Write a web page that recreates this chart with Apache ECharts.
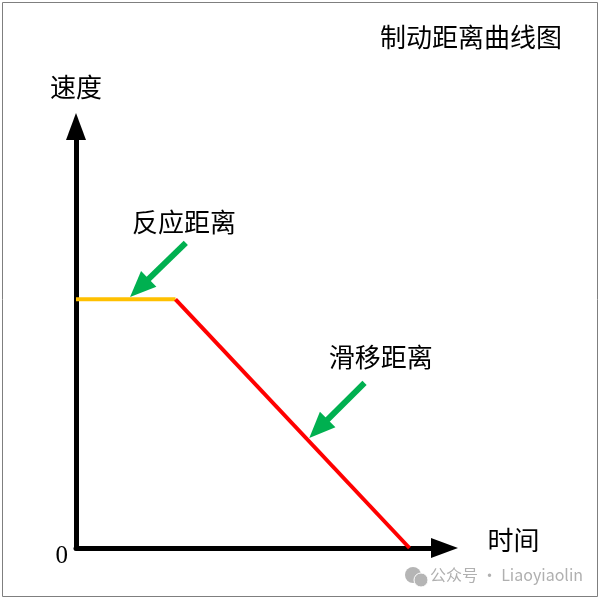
<!DOCTYPE html>
<html>
<head>
<meta charset="utf-8">
<script src="https://cdn.jsdelivr.net/npm/echarts@6/dist/echarts.min.js"></script>
<style>
html, body { margin: 0; padding: 0; background: #fff; }
#chart { width: 600px; height: 599px; }
</style>
</head>
<body>
<div id="chart"></div>
<script>
// 速度-时间 (braking distance curve)
var reactionData = [[0, 59], [27, 59]];
var brakingData = [[27, 59], [90.5, 0]];
// green pointers: [start, arrow-head centre]
var reactionArrow = [[29.8, 72.4], [17.2, 61.7]];
var brakingArrow = [[78.3, 39.2], [65.8, 28.3]];
var labelNames = ['反应距离', '滑移距离'];
var labelCoords = [[29.3, 77.4], [82.7, 45.4]];

var cjk = '"Noto Sans CJK SC", sans-serif';
var green = '#00b050';

function pointer(arr) {
    return {
        silent: true,
        symbol: ['none', 'triangle'],
        symbolSize: [22, 26],
        lineStyle: { color: green, width: 6, type: 'solid' },
        label: { show: false },
        data: [[{ coord: arr[0] }, { coord: arr[1] }]]
    };
}

function tag(i) {
    return {
        silent: true,
        symbol: 'circle',
        symbolSize: 0,
        label: {
            show: true, position: 'inside', formatter: labelNames[i],
            fontFamily: cjk, fontSize: 26, color: '#000'
        },
        data: [{ coord: labelCoords[i] }]
    };
}

var myChart = echarts.init(document.getElementById('chart'));
var option = {
    animation: false,
    title: {
        text: '制动距离曲线图',
        right: 33, top: 19,
        textStyle: { fontFamily: cjk, fontSize: 26, fontWeight: 'normal', color: '#000' }
    },
    grid: { left: 76, right: 155.5, top: 126.5, bottom: 51 },
    xAxis: {
        type: 'value', min: 0, max: 100,
        name: '时间', nameLocation: 'end', nameGap: 43,
        nameTextStyle: { fontFamily: cjk, fontSize: 26, color: '#000', verticalAlign: 'bottom', lineHeight: 16 },
        axisLine: { lineStyle: { color: '#000', width: 5 }, symbol: ['none', 'triangle'], symbolSize: [20, 27] },
        axisTick: { show: false }, axisLabel: { show: false }, splitLine: { show: false }
    },
    yAxis: {
        type: 'value', min: 0, max: 100,
        name: '速度', nameLocation: 'end', nameGap: 26,
        nameTextStyle: { fontFamily: cjk, fontSize: 26, color: '#000', align: 'center' },
        axisLine: { lineStyle: { color: '#000', width: 5 }, symbol: ['none', 'triangle'], symbolSize: [20, 27] },
        axisTick: { show: false }, splitLine: { show: false },
        axisLabel: {
            margin: 8, fontFamily: '"Liberation Serif", serif', fontSize: 25, color: '#000',
            verticalAlign: 'top', lineHeight: 16,
            formatter: function (v) { return v === 0 ? '0' : ''; }
        }
    },
    series: [
        {
            type: 'line', data: reactionData, symbol: 'none',
            lineStyle: { color: '#ffc000', width: 4 },
            markLine: pointer(reactionArrow), markPoint: tag(0)
        },
        {
            type: 'line', data: brakingData, symbol: 'none',
            lineStyle: { color: '#ff0000', width: 4 },
            markLine: pointer(brakingArrow), markPoint: tag(1)
        }
    ],
    graphic: [
        {
            type: 'rect', silent: true,
            shape: { x: 2.5, y: 2.5, width: 595, height: 594 },
            style: { fill: 'none', stroke: '#7f7f7f', lineWidth: 1 }
        },
        {
            type: 'group', left: 405, top: 567, silent: true,
            children: [
                { type: 'circle', shape: { cx: 8, cy: 8, r: 8 }, style: { fill: '#b5b5b5' } },
                { type: 'circle', shape: { cx: 16, cy: 13, r: 7 }, style: { fill: '#b5b5b5', stroke: '#fff', lineWidth: 1 } },
                {
                    type: 'text', left: 25, top: 0,
                    style: { text: '公众号 · Liaoyiaolin', fill: '#b0b0b0', fontSize: 16, fontFamily: cjk }
                }
            ]
        }
    ]
};
myChart.setOption(option);
</script>
</body>
</html>
